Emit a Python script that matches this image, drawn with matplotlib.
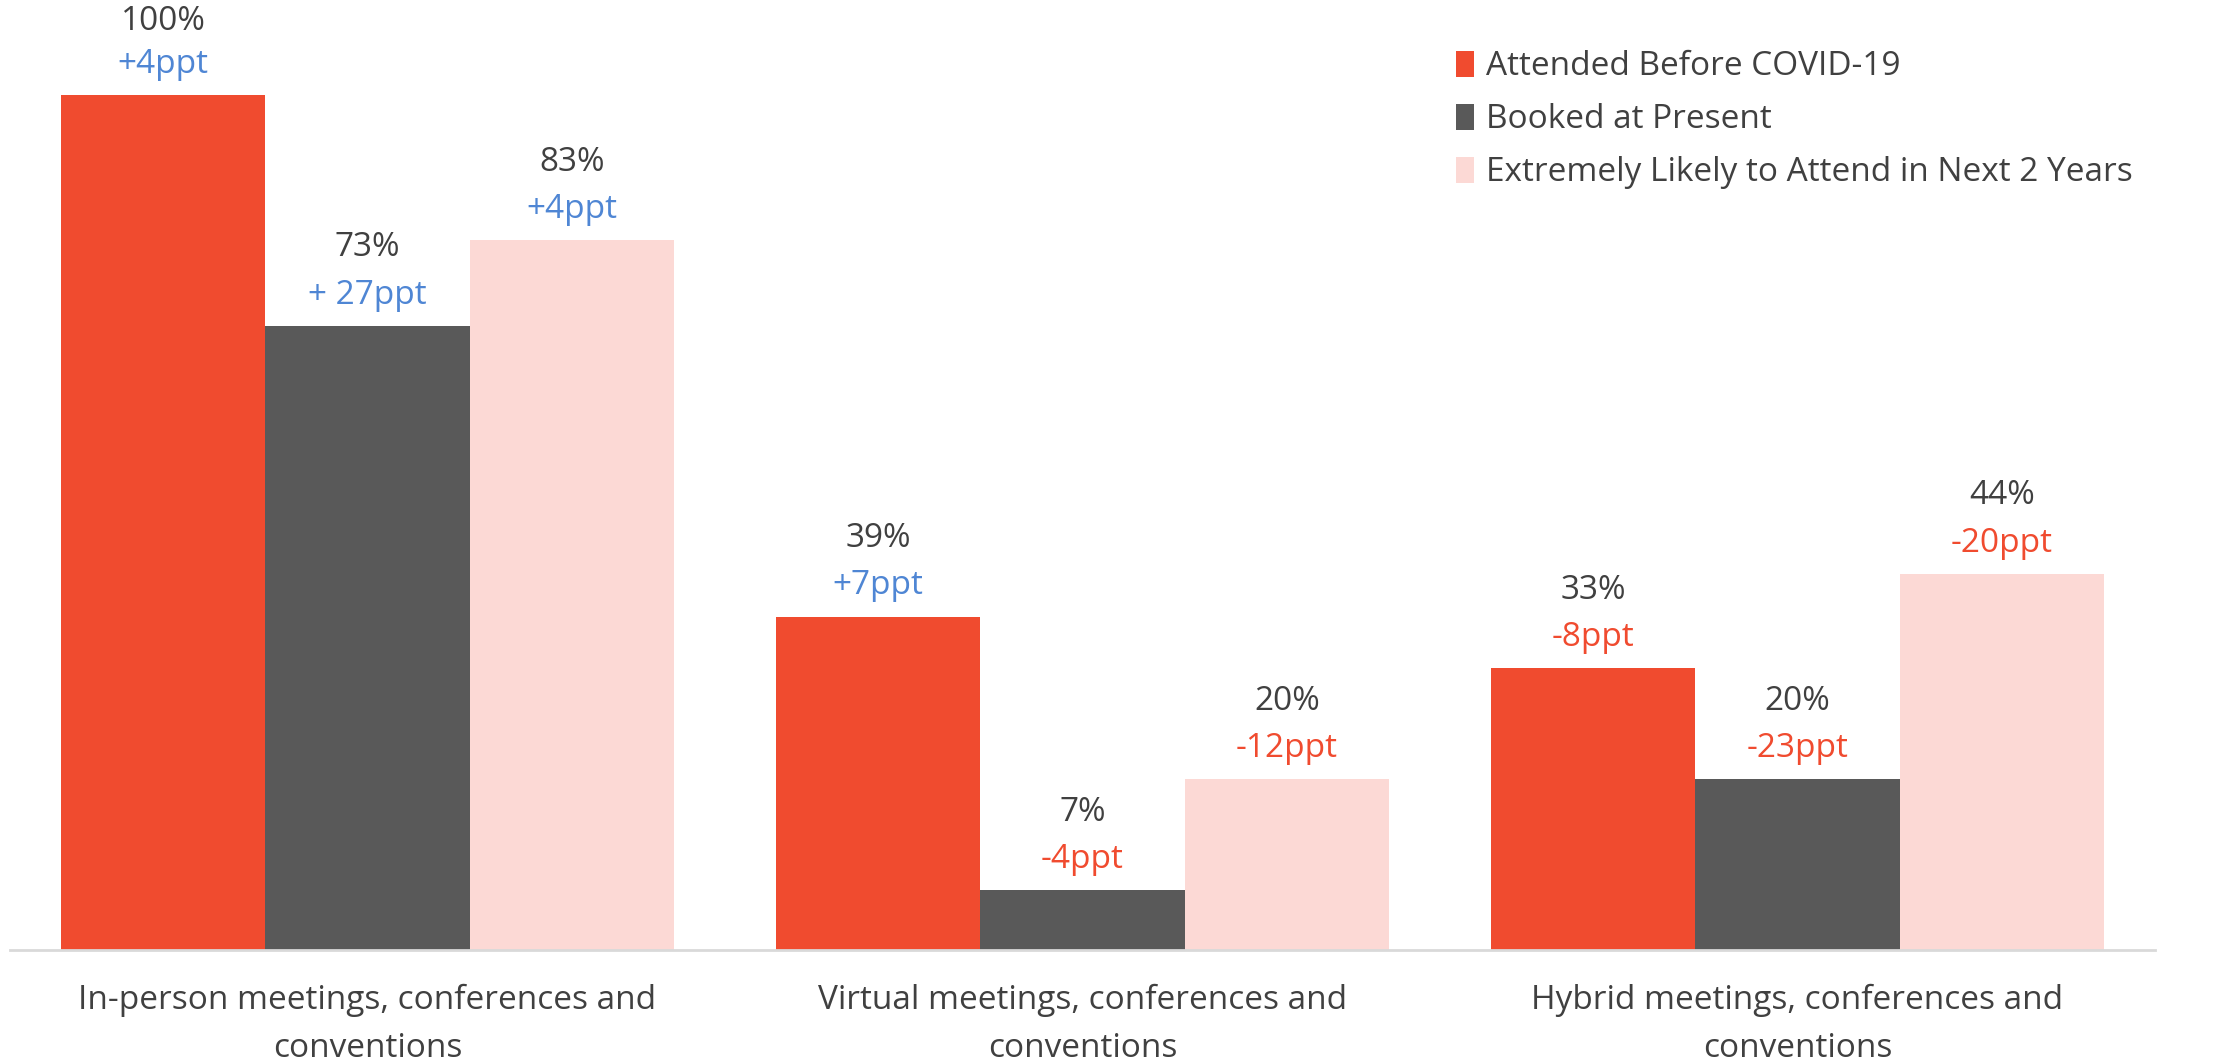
import numpy as np
import matplotlib.pyplot as plt

plt.rcParams['font.family'] = ['Open Sans', 'DejaVu Sans']

# data
categories = ["In-person meetings, conferences and\nconventions",
              "Virtual meetings, conferences and\nconventions",
              "Hybrid meetings, conferences and\nconventions"]
series = ["Attended Before COVID-19", "Booked at Present",
          "Extremely Likely to Attend in Next 2 Years"]
before = [100, 39, 33]
booked = [73, 7, 20]
likely = [83, 20, 44]
change_before = ["+4ppt", "+7ppt", "-8ppt"]
change_booked = ["+ 27ppt", "-4ppt", "-23ppt"]
change_likely = ["+4ppt", "-12ppt", "-20ppt"]

colors = ["#F04B2F", "#595959", "#FCD9D5"]
blue = "#4F86D4"
red = "#F04B2F"
txt = "#404040"
fs = 24

fig = plt.figure(figsize=(22.16, 10.61), dpi=100)
ax = fig.add_axes([0.0045, 0.1046, 0.968, 0.806])

x = np.arange(len(categories))
w = 0.286
values = [before, booked, likely]
changes = [change_before, change_booked, change_likely]

for i in range(3):
    xs = x + (i - 1) * w
    ax.bar(xs, values[i], w, color=colors[i], label=series[i], zorder=2)
    for xi, v, c in zip(xs, values[i], changes[i]):
        col = red if c.startswith("-") else blue
        # the top label sits a little lower, near the figure edge
        off = 53 if v >= 100 else 56
        ax.annotate(c, (xi, v), xytext=(0, 22), textcoords="offset points",
                    ha="center", va="center", fontsize=fs, color=col,
                    annotation_clip=False)
        ax.annotate(f"{v}%", (xi, v), xytext=(0, off), textcoords="offset points",
                    ha="center", va="center", fontsize=fs, color=txt,
                    annotation_clip=False)

ax.set_xlim(-0.5, 2.5)
ax.set_ylim(0, 100)
ax.set_yticks([])
ax.set_xticks(x)
ax.set_xticklabels(categories, fontsize=fs, color=txt, linespacing=1.6)
ax.tick_params(axis="x", length=0, pad=24)
for s in ["top", "right", "left"]:
    ax.spines[s].set_visible(False)
ax.spines["bottom"].set_color("#D9D9D9")
ax.spines["bottom"].set_linewidth(2)

leg = ax.legend(loc="upper left", bbox_to_anchor=(0.66, 1.087), frameon=False,
                fontsize=fs, handlelength=0.55, handleheight=0.8,
                handletextpad=0.35, labelspacing=0.6)
for t in leg.get_texts():
    t.set_color(txt)

fig.savefig("out.png", dpi=100)
